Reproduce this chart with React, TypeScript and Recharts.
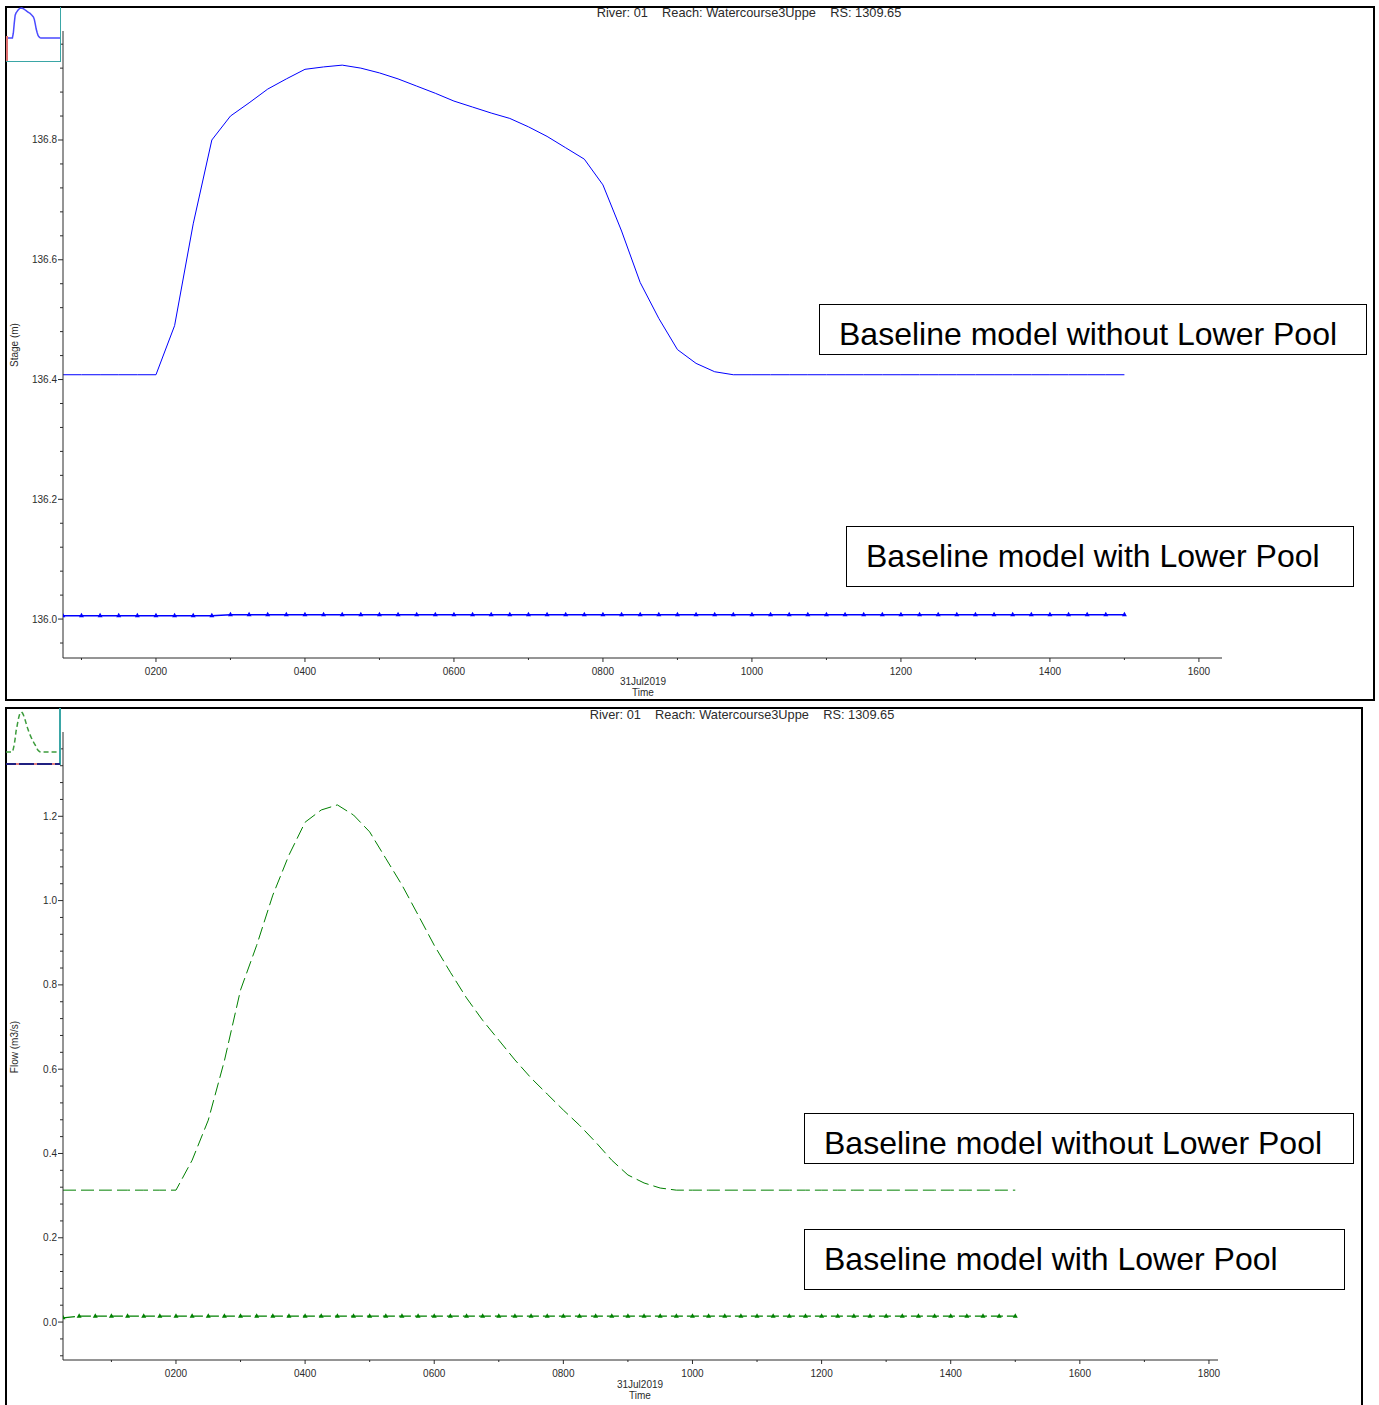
import { LineChart, Line, XAxis, YAxis } from 'recharts';

// 15 minute output interval, hours after midnight 31Jul2019
const hours = [
  0.25, 0.5, 0.75, 1, 1.25, 1.5, 1.75, 2, 2.25, 2.5, 2.75, 3, 3.25, 3.5, 3.75, 4,
  4.25, 4.5, 4.75, 5, 5.25, 5.5, 5.75, 6, 6.25, 6.5, 6.75, 7, 7.25, 7.5, 7.75, 8,
  8.25, 8.5, 8.75, 9, 9.25, 9.5, 9.75, 10, 10.25, 10.5, 10.75, 11, 11.25, 11.5, 11.75, 12,
  12.25, 12.5, 12.75, 13, 13.25, 13.5, 13.75, 14, 14.25, 14.5, 14.75, 15,
];

const stageWithout = [
  136.408, 136.408, 136.408, 136.408, 136.408, 136.408, 136.408, 136.408,
  136.49, 136.66, 136.8, 136.84, 136.862, 136.885, 136.902, 136.918,
  136.922, 136.925, 136.92, 136.912, 136.902, 136.89, 136.878, 136.865,
  136.855, 136.845, 136.836, 136.822, 136.806, 136.787, 136.768, 136.725,
  136.648, 136.562, 136.502, 136.45, 136.427, 136.413, 136.408, 136.408,
  136.408, 136.408, 136.408, 136.408, 136.408, 136.408, 136.408, 136.408,
  136.408, 136.408, 136.408, 136.408, 136.408, 136.408, 136.408, 136.408,
  136.408, 136.408, 136.408, 136.408,
];

const stageWith = [
  136.0055, 136.0055, 136.0055, 136.0055, 136.0055, 136.0055, 136.0055, 136.0055,
  136.0055, 136.0055, 136.0055, 136.0072, 136.0072, 136.0072, 136.0072, 136.0072,
  136.0072, 136.0072, 136.0072, 136.0072, 136.0072, 136.0072, 136.0072, 136.0072,
  136.0072, 136.0072, 136.0072, 136.0072, 136.0072, 136.0072, 136.0072, 136.0072,
  136.0072, 136.0072, 136.0072, 136.0072, 136.0072, 136.0072, 136.0072, 136.0072,
  136.0072, 136.0072, 136.0072, 136.0072, 136.0072, 136.0072, 136.0072, 136.0072,
  136.0072, 136.0072, 136.0072, 136.0072, 136.0072, 136.0072, 136.0072, 136.0072,
  136.0072, 136.0072, 136.0072, 136.0072,
];

const flowWithout = [
  0.313, 0.313, 0.313, 0.313, 0.313, 0.313, 0.313, 0.313,
  0.384, 0.479, 0.62, 0.788, 0.894, 1.013, 1.108, 1.186,
  1.215, 1.227, 1.203, 1.163, 1.1, 1.037, 0.966, 0.894,
  0.83, 0.769, 0.716, 0.669, 0.622, 0.579, 0.541, 0.503,
  0.467, 0.427, 0.384, 0.349, 0.33, 0.318, 0.313, 0.313,
  0.313, 0.313, 0.313, 0.313, 0.313, 0.313, 0.313, 0.313,
  0.313, 0.313, 0.313, 0.313, 0.313, 0.313, 0.313, 0.313,
  0.313, 0.313, 0.313, 0.313,
];

const flowWith = [
  0.01, 0.014, 0.014, 0.014, 0.014, 0.014, 0.014, 0.014,
  0.014, 0.014, 0.014, 0.014, 0.014, 0.014, 0.014, 0.014,
  0.014, 0.014, 0.014, 0.014, 0.014, 0.014, 0.014, 0.014,
  0.014, 0.014, 0.014, 0.014, 0.014, 0.014, 0.014, 0.014,
  0.014, 0.014, 0.014, 0.014, 0.014, 0.014, 0.014, 0.014,
  0.014, 0.014, 0.014, 0.014, 0.014, 0.014, 0.014, 0.014,
  0.014, 0.014, 0.014, 0.014, 0.014, 0.014, 0.014, 0.014,
  0.014, 0.014, 0.014, 0.014,
];

const stageTicks = [
  135.96, 136, 136.04, 136.08, 136.12, 136.16, 136.2, 136.24, 136.28, 136.32, 136.36,
  136.4, 136.44, 136.48, 136.52, 136.56, 136.6, 136.64, 136.68, 136.72, 136.76,
  136.8, 136.84, 136.88, 136.92, 136.96,
];

const flowTicks = [
  -0.08, -0.04, 0, 0.04, 0.08, 0.12, 0.16, 0.2, 0.24, 0.28, 0.32, 0.36, 0.4,
  0.44, 0.48, 0.52, 0.56, 0.6, 0.64, 0.68, 0.72, 0.76, 0.8, 0.84, 0.88, 0.92,
  0.96, 1.0, 1.04, 1.08, 1.12, 1.16, 1.2, 1.24, 1.28, 1.32, 1.36,
];

const hourTicksTop = [1, 2, 3, 4, 5, 6, 7, 8, 9, 10, 11, 12, 13, 14, 15, 16];
const hourTicksBottom = [1, 2, 3, 4, 5, 6, 7, 8, 9, 10, 11, 12, 13, 14, 15, 16, 17, 18];

const caseLabels = ['Baseline model without Lower Pool', 'Baseline model with Lower Pool'];
const plotTitle = 'River: 01    Reach: Watercourse3Uppe    RS: 1309.65';
const dateLabel = '31Jul2019';

const stageData = hours.map((t, i) => ({ t, without: stageWithout[i], with: stageWith[i] }));
const flowData = hours.map((t, i) => ({ t, without: flowWithout[i], with: flowWith[i] }));

const FONT = '"Liberation Sans", Arial, Helvetica, sans-serif';
const INK = '#2b2b2b';
const BLUE = '#0000ff';
const GREEN = '#008000';

const isMajor = (v: number) => Math.abs(v * 5 - Math.round(v * 5)) < 1e-6;

function HourTick({ x, y, payload }: any) {
  const h = payload.value as number;
  const major = h % 2 === 0;
  return (
    <g>
      <line x1={x} x2={x} y1={y} y2={y + (major ? 4 : 2)} stroke={INK} />
      {major && (
        <text x={x} y={y + 17} textAnchor="middle" fontSize={10} fontFamily={FONT} fill={INK}>
          {String(h * 100).padStart(4, '0')}
        </text>
      )}
    </g>
  );
}

function ValueTick({ x, y, payload }: any) {
  const v = payload.value as number;
  const major = isMajor(v);
  return (
    <g>
      <line x1={x - (major ? 5 : 3)} x2={x} y1={y} y2={y} stroke={INK} />
      {major && (
        <text x={x - 6} y={y} dy="0.35em" textAnchor="end" fontSize={10} fontFamily={FONT} fill={INK}>
          {v.toFixed(1)}
        </text>
      )}
    </g>
  );
}

function TriangleDot({ cx, cy, tint }: any) {
  if (cx == null || cy == null) return null;
  return <polygon points={`${cx},${cy - 3} ${cx - 2.5},${cy + 1.5} ${cx + 2.5},${cy + 1.5}`} fill={tint} />;
}

const abs = (left: number, top: number, extra: any = {}) => ({ position: 'absolute' as const, left, top, ...extra });

function CaseBox({ left, top, width, height, text, textTop }: any) {
  return (
    <>
      <div style={abs(left, top, { width, height, border: '1px solid #000', background: '#fff', boxSizing: 'border-box' })} />
      <div style={abs(left + 20, textTop, { fontFamily: FONT, fontSize: 32, lineHeight: '32px', whiteSpace: 'pre', color: '#000' })}>
        {text}
      </div>
    </>
  );
}

function SmallText({ left, top, width, text, size = 10 }: any) {
  return (
    <div style={abs(left, top, { width, textAlign: 'center', fontFamily: FONT, fontSize: size, lineHeight: `${size + 2}px`, whiteSpace: 'pre', color: INK })}>
      {text}
    </div>
  );
}

function AxisTitle({ cx, cy, text }: any) {
  return (
    <div style={abs(cx - 50, cy - 6, { width: 100, textAlign: 'center', fontFamily: FONT, fontSize: 10, lineHeight: '12px', color: INK, transform: 'rotate(-90deg)' })}>
      {text}
    </div>
  );
}

export default function App() {
  return (
    <div style={abs(0, 0, { width: 1379, height: 1405, background: '#fff', overflow: 'hidden' })}>
      {/* frames */}
      <div style={abs(5, 6, { width: 1370, height: 695, border: '2px solid #000', boxSizing: 'border-box' })} />
      <div style={abs(5, 707, { width: 1358, height: 698, border: '2px solid #000', borderBottom: 'none', boxSizing: 'border-box' })} />

      {/* stage hydrograph */}
      <div style={abs(0, 0)}>
        <LineChart width={1379} height={700} data={stageData} margin={{ top: 31, right: 157, bottom: 2, left: 3 }}>
          <XAxis
            dataKey="t" type="number" domain={[0.752, 16.31]} allowDataOverflow
            ticks={hourTicksTop} interval={0} tick={<HourTick />}
            tickLine={false} tickSize={0} tickMargin={0} axisLine={{ stroke: INK }} height={40}
          />
          <YAxis
            type="number" domain={[135.935, 136.982]} allowDataOverflow
            ticks={stageTicks} interval={0} tick={<ValueTick />}
            tickLine={false} tickSize={0} tickMargin={0} axisLine={{ stroke: INK }} width={60}
          />
          <Line type="linear" dataKey="without" stroke={BLUE} strokeWidth={1} dot={false} isAnimationActive={false} />
          <Line type="linear" dataKey="with" stroke={BLUE} strokeWidth={1.5} dot={<TriangleDot tint={BLUE} />} isAnimationActive={false} />
        </LineChart>
      </div>

      {/* flow hydrograph */}
      <div style={abs(0, 700)}>
        <LineChart width={1379} height={700} data={flowData} margin={{ top: 32, right: 161, bottom: 2, left: 3 }}>
          <XAxis
            dataKey="t" type="number" domain={[0.25, 18.14]} allowDataOverflow
            ticks={hourTicksBottom} interval={0} tick={<HourTick />}
            tickLine={false} tickSize={0} tickMargin={0} axisLine={{ stroke: INK }} height={38}
          />
          <YAxis
            type="number" domain={[-0.09, 1.4]} allowDataOverflow
            ticks={flowTicks} interval={0} tick={<ValueTick />}
            tickLine={false} tickSize={0} tickMargin={0} axisLine={{ stroke: INK }} width={60}
          />
          <Line type="linear" dataKey="without" stroke={GREEN} strokeWidth={1} strokeDasharray="13 5" dot={false} isAnimationActive={false} />
          <Line type="linear" dataKey="with" stroke={GREEN} strokeWidth={1.2} strokeDasharray="12 4" dot={<TriangleDot tint={GREEN} />} isAnimationActive={false} />
        </LineChart>
      </div>

      {/* overview thumbnails */}
      <div style={abs(6, 7)}>
        <LineChart width={54} height={54} data={stageData} margin={{ top: 0, right: 0, bottom: 0, left: 0 }}>
          <XAxis dataKey="t" type="number" domain={[0.25, 15]} hide />
          <YAxis type="number" domain={[136.011, 136.942]} allowDataOverflow hide />
          <Line type="linear" dataKey="without" stroke="#4a4aff" strokeWidth={1.5} dot={false} isAnimationActive={false} />
        </LineChart>
      </div>
      <div style={abs(6, 7, { width: 55, height: 55, borderRight: '1.5px solid #3aa6a6', borderBottom: '1.5px solid #3aa6a6', boxSizing: 'border-box' })} />
      <div style={abs(6, 36, { width: 1.5, height: 25, background: '#e07070' })} />

      <div style={abs(6, 708)}>
        <LineChart width={54} height={56} data={flowData} margin={{ top: 0, right: 0, bottom: 0, left: 0 }}>
          <XAxis dataKey="t" type="number" domain={[0.25, 15]} hide />
          <YAxis type="number" domain={[0.038, 1.318]} allowDataOverflow hide />
          <Line type="linear" dataKey="without" stroke="#3c9c3c" strokeWidth={1.5} strokeDasharray="5 3" dot={false} isAnimationActive={false} />
        </LineChart>
      </div>
      <div style={abs(59, 708, { width: 1.5, height: 57, background: '#3aa6a6' })} />
      <div style={abs(6, 763, { width: 54, height: 1.5, background: 'repeating-linear-gradient(90deg, #202080 0 10px, #e08080 10px 13px, #202080 13px 18px)' })} />

      {/* titles and axis captions */}
      <SmallText left={549} top={6} width={400} text={plotTitle} size={12.8} />
      <SmallText left={542} top={708} width={400} text={plotTitle} size={12.8} />
      <SmallText left={593} top={676} width={100} text={dateLabel} />
      <SmallText left={593} top={687} width={100} text="Time" />
      <SmallText left={590} top={1379} width={100} text={dateLabel} />
      <SmallText left={590} top={1390} width={100} text="Time" />
      <AxisTitle cx={15} cy={345} text="Stage (m)" />
      <AxisTitle cx={15} cy={1047} text="Flow (m3/s)" />

      {/* scenario annotations */}
      <CaseBox left={819} top={304} width={548} height={51} text={caseLabels[0]} textTop={318} />
      <CaseBox left={846} top={526} width={508} height={61} text={caseLabels[1]} textTop={540} />
      <CaseBox left={804} top={1113} width={550} height={51} text={caseLabels[0]} textTop={1127} />
      <CaseBox left={804} top={1229} width={541} height={61} text={caseLabels[1]} textTop={1243} />
    </div>
  );
}
